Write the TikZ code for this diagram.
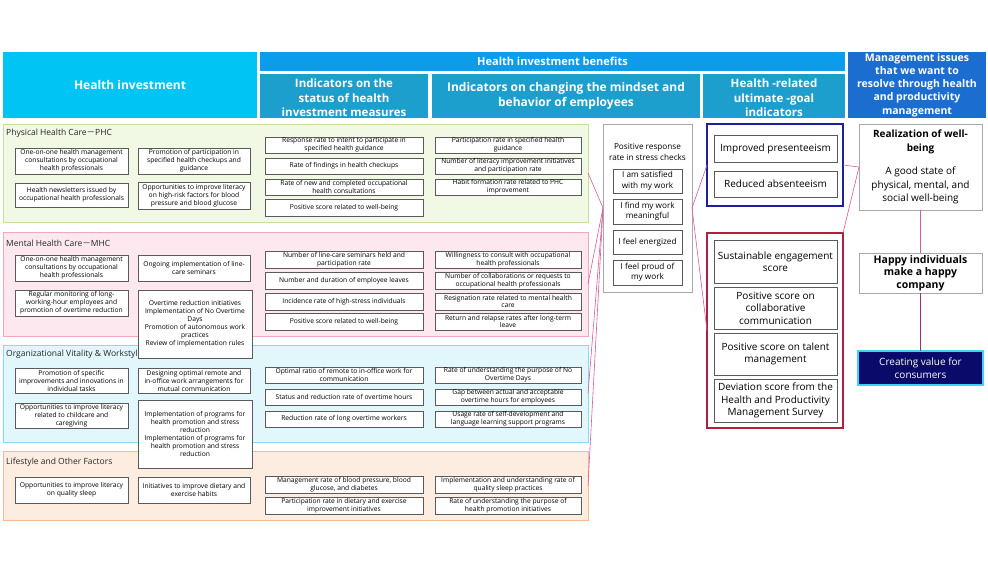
\documentclass[tikz,border=0pt]{standalone}
\usepackage{fontspec}
\setmainfont{Open Sans}
\newfontfamily\cjkf{Noto Sans CJK JP}
\definecolor{hcyan}{HTML}{00C4F4}
\definecolor{hben}{HTML}{0B9DEC}
\definecolor{hsub}{HTML}{1C9FCD}
\definecolor{hmgmt}{HTML}{1B6ED0}
\definecolor{phcfill}{HTML}{F1F8E3}
\definecolor{phcdraw}{HTML}{C6E09C}
\definecolor{mhcfill}{HTML}{FDE8EF}
\definecolor{mhcdraw}{HTML}{F2A7BF}
\definecolor{ovwfill}{HTML}{E2F7FC}
\definecolor{ovwdraw}{HTML}{86DAF1}
\definecolor{lifefill}{HTML}{FDEDE0}
\definecolor{lifedraw}{HTML}{F5BA92}
\definecolor{boxgray}{HTML}{5A5A5A}
\definecolor{sgray}{HTML}{A8A8A8}
\definecolor{fblue}{HTML}{1E1E9E}
\definecolor{fred}{HTML}{B21F3E}
\definecolor{navyc}{HTML}{0A0A6A}
\definecolor{cvbord}{HTML}{3ED2F4}
\definecolor{connc}{HTML}{D85A9C}
\definecolor{connd}{HTML}{A02C7C}
\newcommand\setfs[2]{\fontsize{#1}{#2}\selectfont}
\newcommand\rbox[7][]{\node[rbase,#1,minimum width={(#5-#3)*1pt},minimum height={(#6-#4)*1pt}] (#2) at ({(#3+#5)/2},{(#4+#6)/2}) {#7};}
\tikzset{
  rbase/.style={rectangle, inner sep=0.5pt, outer sep=0pt, align=center},
  hdr/.style={text=white, font=\bfseries\setfs{11.5}{14.5}},
  panel/.style={line width=1pt},
  sectitle/.style={anchor=west, inner sep=0pt, font=\setfs{8.5}{10}, text=black!85},
  lbox/.style={draw=boxgray, fill=white, line width=0.6pt, font=\setfs{6.7}{8}},
  mbox/.style={draw=boxgray, fill=white, line width=0.6pt, font=\setfs{6.7}{7.6}},
  sbox/.style={draw=boxgray, fill=white, line width=0.6pt, font=\setfs{8.2}{10.5}},
  gbox/.style={draw=boxgray, fill=white, line width=0.6pt, font=\setfs{10}{12.5}},
  frame/.style={line width=1.4pt, fill=white},
  connline/.style={draw=connc, line width=0.6pt},
}
\begin{document}
\begin{tikzpicture}[x=1pt,y=-1pt]
\useasboundingbox (0,0) rectangle (988,568);
\fill[white] (0,0) rectangle (988,568);
% headers
\rbox[hdr,fill=hcyan,font=\bfseries\setfs{12}{14}]{hinv}{3}{52}{257}{118}{Health investment}
\rbox[hdr,fill=hben,font=\bfseries\setfs{11}{13}]{hben}{260}{52}{845}{71}{Health investment benefits}
\rbox[hdr,fill=hsub]{hstat}{260}{74}{428}{118}{\rule{0pt}{13pt}Indicators on the\\status of health\\investment measures}
\rbox[hdr,fill=hsub,font=\bfseries\setfs{12}{15}]{hmind}{432}{74}{700}{118}{Indicators on changing the mindset and\\behavior of employees}
\rbox[hdr,fill=hsub]{hgoal}{703}{74}{845}{118}{\rule{0pt}{13pt}Health -related\\ultimate -goal\\indicators}
\rbox[hdr,fill=hmgmt,font=\bfseries\setfs{10.5}{13.2}]{hmgmt}{848}{52}{986}{118}{Management issues\\that we want to\\resolve through health\\and productivity\\management}
% panels
\rbox[panel,fill=phcfill,draw=phcdraw]{phc}{3}{124}{588}{222}{}
\rbox[panel,fill=mhcfill,draw=mhcdraw]{mhc}{3}{232}{588}{336}{}
\rbox[panel,fill=ovwfill,draw=ovwdraw]{ovw}{3}{345}{588}{442}{}
\rbox[panel,fill=lifefill,draw=lifedraw]{life}{3}{451}{588}{520}{}
\node[sectitle] (phct) at (6,133) {Physical Health Care{\cjkf －}PHC};
\node[sectitle] (mhct) at (6,243) {Mental Health Care{\cjkf －}MHC};
\node[sectitle] (ovwt) at (6,354) {Organizational Vitality \& Workstyle};
\node[sectitle] (lifet) at (6,462) {Lifestyle and Other Factors};
% connectors left
\draw[connline] (phc.east) -- (603,208) coordinate (sin);
\draw[connline] (mhc.east) -- (sin);
\draw[connline] (ovw.east) -- (sin);
\draw[connline] (life.east) -- (sin);
% PHC boxes
\rbox[lbox]{p1}{15}{148}{128}{174}{One-on-one health management\\consultations by occupational\\health professionals}
\rbox[lbox]{p2}{138}{148}{250}{174}{Promotion of participation in\\specified health checkups and\\guidance}
\rbox[lbox]{p3}{15}{183}{128}{207}{Health newsletters issued by\\occupational health professionals}
\rbox[lbox]{p4}{138}{182}{250}{209}{Opportunities to improve literacy\\on high-risk factors for blood\\pressure and blood glucose}
\rbox[mbox]{pm1}{265}{137}{423}{153}{Response rate to intent to participate in\\specified health guidance}
\rbox[mbox]{pm2}{265}{158}{423}{174}{Rate of findings in health checkups}
\rbox[mbox]{pm3}{265}{179}{423}{195}{Rate of new and completed occupational\\health consultations}
\rbox[mbox]{pm4}{265}{199}{423}{216}{Positive score related to well-being}
\rbox[mbox]{pr1}{435}{137}{581}{153}{Participation rate in specified health\\guidance}
\rbox[mbox]{pr2}{435}{158}{581}{174}{Number of literacy improvement initiatives\\and participation rate}
\rbox[mbox]{pr3}{435}{179}{581}{195}{Habit formation rate related to PHC\\improvement}
% MHC boxes
\rbox[lbox]{m1}{15}{255}{128}{281}{One-on-one health management\\consultations by occupational\\health professionals}
\rbox[lbox]{m2}{138}{255}{250}{281}{Ongoing implementation of line-\\care seminars}
\rbox[lbox]{m3}{15}{290}{128}{316}{Regular monitoring of long-\\working-hour employees and\\promotion of overtime reduction}
\rbox[lbox]{m4}{138}{290}{252}{358}{Overtime reduction initiatives\\Implementation of No Overtime\\Days\\Promotion of autonomous work\\practices\\Review of implementation rules}
\rbox[mbox]{mm1}{265}{251}{423}{268}{Number of line-care seminars held and\\participation rate}
\rbox[mbox]{mm2}{265}{272}{423}{289}{Number and duration of employee leaves}
\rbox[mbox]{mm3}{265}{293}{423}{310}{Incidence rate of high-stress individuals}
\rbox[mbox]{mm4}{265}{313}{423}{330}{Positive score related to well-being}
\rbox[mbox]{mr1}{435}{251}{581}{268}{Willingness to consult with occupational\\health professionals}
\rbox[mbox]{mr2}{435}{272}{581}{289}{Number of collaborations or requests to\\occupational health professionals}
\rbox[mbox]{mr3}{435}{293}{581}{310}{Resignation rate related to mental health\\care}
\rbox[mbox]{mr4}{435}{313}{581}{330}{Return and relapse rates after long-term\\leave}
% OVW boxes
\rbox[lbox]{o1}{15}{368}{128}{393}{Promotion of specific\\improvements and innovations in\\individual tasks}
\rbox[lbox]{o2}{138}{368}{250}{393}{Designing optimal remote and\\in-office work arrangements for\\mutual communication}
\rbox[lbox]{o3}{15}{403}{128}{428}{Opportunities to improve literacy\\related to childcare and\\caregiving}
\rbox[lbox]{o4}{138}{400}{252}{468}{Implementation of programs for\\health promotion and stress\\reduction\\Implementation of programs for\\health promotion and stress\\reduction}
\rbox[mbox]{om1}{265}{367}{423}{383}{Optimal ratio of remote to in-office work for\\communication}
\rbox[mbox]{om2}{265}{389}{423}{405}{Status and reduction rate of overtime hours}
\rbox[mbox]{om3}{265}{411}{423}{427}{Reduction rate of long overtime workers}
\rbox[mbox]{or1}{435}{367}{581}{383}{Rate of understanding the purpose of No\\Overtime Days}
\rbox[mbox]{or2}{435}{389}{581}{405}{Gap between actual and acceptable\\overtime hours for employees}
\rbox[mbox]{or3}{435}{411}{581}{427}{Usage rate of self-development and\\language learning support programs}
% Lifestyle boxes
\rbox[lbox]{l1}{15}{477}{128}{503}{Opportunities to improve literacy\\on quality sleep}
\rbox[lbox]{l2}{138}{477}{250}{503}{Initiatives to improve dietary and\\exercise habits}
\rbox[mbox]{lm1}{265}{476}{423}{493}{Management rate of blood pressure, blood\\glucose, and diabetes}
\rbox[mbox]{lm2}{265}{497}{423}{514}{Participation rate in dietary and exercise\\improvement initiatives}
\rbox[mbox]{lr1}{435}{476}{581}{493}{Implementation and understanding rate of\\quality sleep practices}
\rbox[mbox]{lr2}{435}{497}{581}{514}{Rate of understanding the purpose of\\health promotion initiatives}
% stress checks
\rbox[draw=sgray,fill=white,line width=0.8pt]{stress}{603}{124}{692}{292}{}
\node[rbase,font=\setfs{8.2}{11.5}] (stresst) at (647.5,152) {Positive response\\rate in stress checks};
\rbox[sbox]{s1}{613}{169}{682}{193}{I am satisfied\\with my work}
\rbox[sbox]{s2}{613}{199}{682}{224}{I find my work\\meaningful}
\rbox[sbox]{s3}{613}{230}{682}{254}{I feel energized}
\rbox[sbox]{s4}{613}{260}{682}{285}{I feel proud of\\my work}
% goal frames
\rbox[frame,draw=fblue]{bluef}{707}{124}{843}{206}{}
\rbox[frame,draw=fred]{redf}{707}{233}{843}{428}{}
\rbox[gbox]{g1}{714}{135}{837}{162}{Improved presenteeism}
\rbox[gbox]{g2}{714}{171}{837}{197}{Reduced absenteeism}
\rbox[gbox]{g3}{714}{240}{837}{283}{Sustainable engagement\\score}
\rbox[gbox]{g4}{714}{287}{837}{329}{Positive score on\\collaborative\\communication}
\rbox[gbox]{g5}{714}{333}{837}{375}{Positive score on talent\\management}
\rbox[gbox]{g6}{714}{379}{837}{422}{Deviation score from the\\Health and Productivity\\Management Survey}
% management column
\rbox[draw=sgray,fill=white,line width=0.8pt,font=\setfs{10}{13.5}]{wb}{859}{124}{982}{210}{\textbf{Realization of well-}\\\textbf{being}\\[10pt]A good state of\\physical, mental, and\\social well-being}
\rbox[draw=sgray,fill=white,line width=0.8pt,font=\bfseries\setfs{10.5}{12.5}]{happy}{859}{253}{982}{293}{Happy individuals\\make a happy\\company}
\rbox[draw=cvbord,fill=navyc,line width=1.6pt,text=white,font=\setfs{10}{13}]{cv}{858}{351}{983}{385}{Creating value for\\consumers}
% connectors right
\draw[connline] (stress.east) -- (bluef.west);
\draw[connline] (stress.east) -- (redf.west);
\draw[connline] (bluef.east) -- (wb.west);
\draw[connline] (redf.north east) -- (wb.west);
\draw[connline] (wb.south) -- (happy.north);
\draw[draw=connd, line width=1.5pt] (happy.south) -- (cv.north);
\end{tikzpicture}
\end{document}
